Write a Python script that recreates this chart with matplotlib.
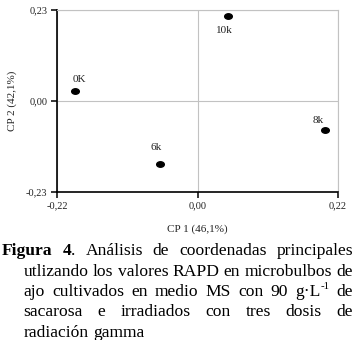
import matplotlib
matplotlib.use('Agg')
import matplotlib.pyplot as plt
from matplotlib.path import Path
from matplotlib.transforms import Affine2D

# Data: principal coordinates
labels = ['0K', '6k', '8k', '10k']
cp1 = [-0.192, -0.059, 0.200, 0.048]
cp2 = [0.025, -0.160, -0.074, 0.213]
label_offsets = [(4, 11), (-4, 16), (-7, 9), (-4, -14)]  # pixels

xticks = [-0.22, 0.0, 0.22]
xtick_labels = ['-0,22', '0,00', '0,22']
yticks = [-0.23, 0.0, 0.23]
ytick_labels = ['-0,23', '0,00', '0,23']

SERIF = 'Liberation Serif'
plt.rcParams['font.family'] = SERIF

W, H = 355, 340
fig = plt.figure(figsize=(W / 100, H / 100), dpi=100)
ax = fig.add_axes([57 / W, 1 - 191.7 / H, 281 / W, 182.2 / H])

ax.set_xlim(-0.22, 0.22)
ax.set_ylim(-0.23, 0.23)
ax.set_xticks(xticks)
ax.set_xticklabels(xtick_labels)
ax.set_yticks(yticks)
ax.set_yticklabels(ytick_labels)
ax.tick_params(direction='out', length=4, width=1.1, labelsize=7.5,
               labelcolor='#222222', pad=3)

ax.grid(True, color='#c2c2c2', lw=0.8)
ax.set_axisbelow(True)
for side in ['top', 'right']:
    ax.spines[side].set_color('#c2c2c2')
    ax.spines[side].set_linewidth(0.8)
for side in ['left', 'bottom']:
    ax.spines[side].set_linewidth(1.2)

# slightly flattened dot, as in the original
ellipse = Path.unit_circle().transformed(Affine2D().scale(1.0, 0.72))
ax.plot(cp1, cp2, linestyle='none', marker=ellipse, color='black',
        markersize=5.5, zorder=3)
for lab, x, y, off in zip(labels, cp1, cp2, label_offsets):
    ax.annotate(lab, (x, y), xytext=off, textcoords='offset pixels',
                ha='center', va='center', fontsize=8, color='#222222')

ax.set_xlabel('CP 1 (46,1%)', fontsize=8, labelpad=10, color='#222222')
ax.set_ylabel('CP 2 (42,1%)', fontsize=8, labelpad=6, color='#222222')

# Caption (justified manually)
fig.canvas.draw()
renderer = fig.canvas.get_renderer()


def seg_width(txt, bold, size):
    t = fig.text(0, 0, txt, fontsize=size, family=SERIF,
                 fontweight='bold' if bold else 'normal')
    w = t.get_window_extent(renderer).width
    t.remove()
    return w


def word(*segs):
    # segs: (text, bold, superscript)
    return [s if len(s) == 3 else (s[0], False, False) for s in segs]


caption = [
    [word(('Figura', True, False)), word(('4', True, False), ('.',)),
     word(('Análisis',)), word(('de',)), word(('coordenadas',)), word(('principales',))],
    [word((w,)) for w in 'utlizando los valores RAPD en microbulbos de'.split()],
    [word((w,)) for w in 'ajo cultivados en medio MS con 90'.split()]
    + [word(('g·L',), ('-1', False, True)), word(('de',))],
    [word((w,)) for w in 'sacarosa e irradiados con tres dosis de'.split()],
    [word((w,)) for w in 'radiación gamma'.split()],
]
line_x0 = [2, 23.5, 23.5, 23.5, 23.5]
line_x1 = 353
baselines = [255, 275.5, 296, 316.5, 337]
justify = [True, True, True, True, False]

# font size fitted on the second line
base = 10.0
w2 = sum(seg_width(s[0], s[1], base) for wd in caption[1] for s in wd)
sp2 = seg_width('a a', False, base) - seg_width('aa', False, base)
fs = base * (line_x1 - line_x0[1]) / (w2 + sp2 * (len(caption[1]) - 1))
space = seg_width('a a', False, fs) - seg_width('aa', False, fs)

for words, x0, yb, just in zip(caption, line_x0, baselines, justify):
    widths = []
    for wd in words:
        widths.append([seg_width(s[0], s[1], fs * (0.62 if s[2] else 1)) for s in wd])
    total = sum(sum(ws) for ws in widths)
    gap = (line_x1 - x0 - total) / (len(words) - 1) if just else space
    x = x0
    for wd, ws in zip(words, widths):
        for (txt, bold, sup), sw in zip(wd, ws):
            size = fs * (0.62 if sup else 1)
            y = yb - (fs * 0.55 if sup else 0)
            fig.text(x / W, 1 - y / H, txt, fontsize=size, family=SERIF,
                     fontweight='bold' if bold else 'normal',
                     ha='left', va='baseline', color='black')
            x += sw
        x += gap

fig.savefig('out.png', dpi=100)
